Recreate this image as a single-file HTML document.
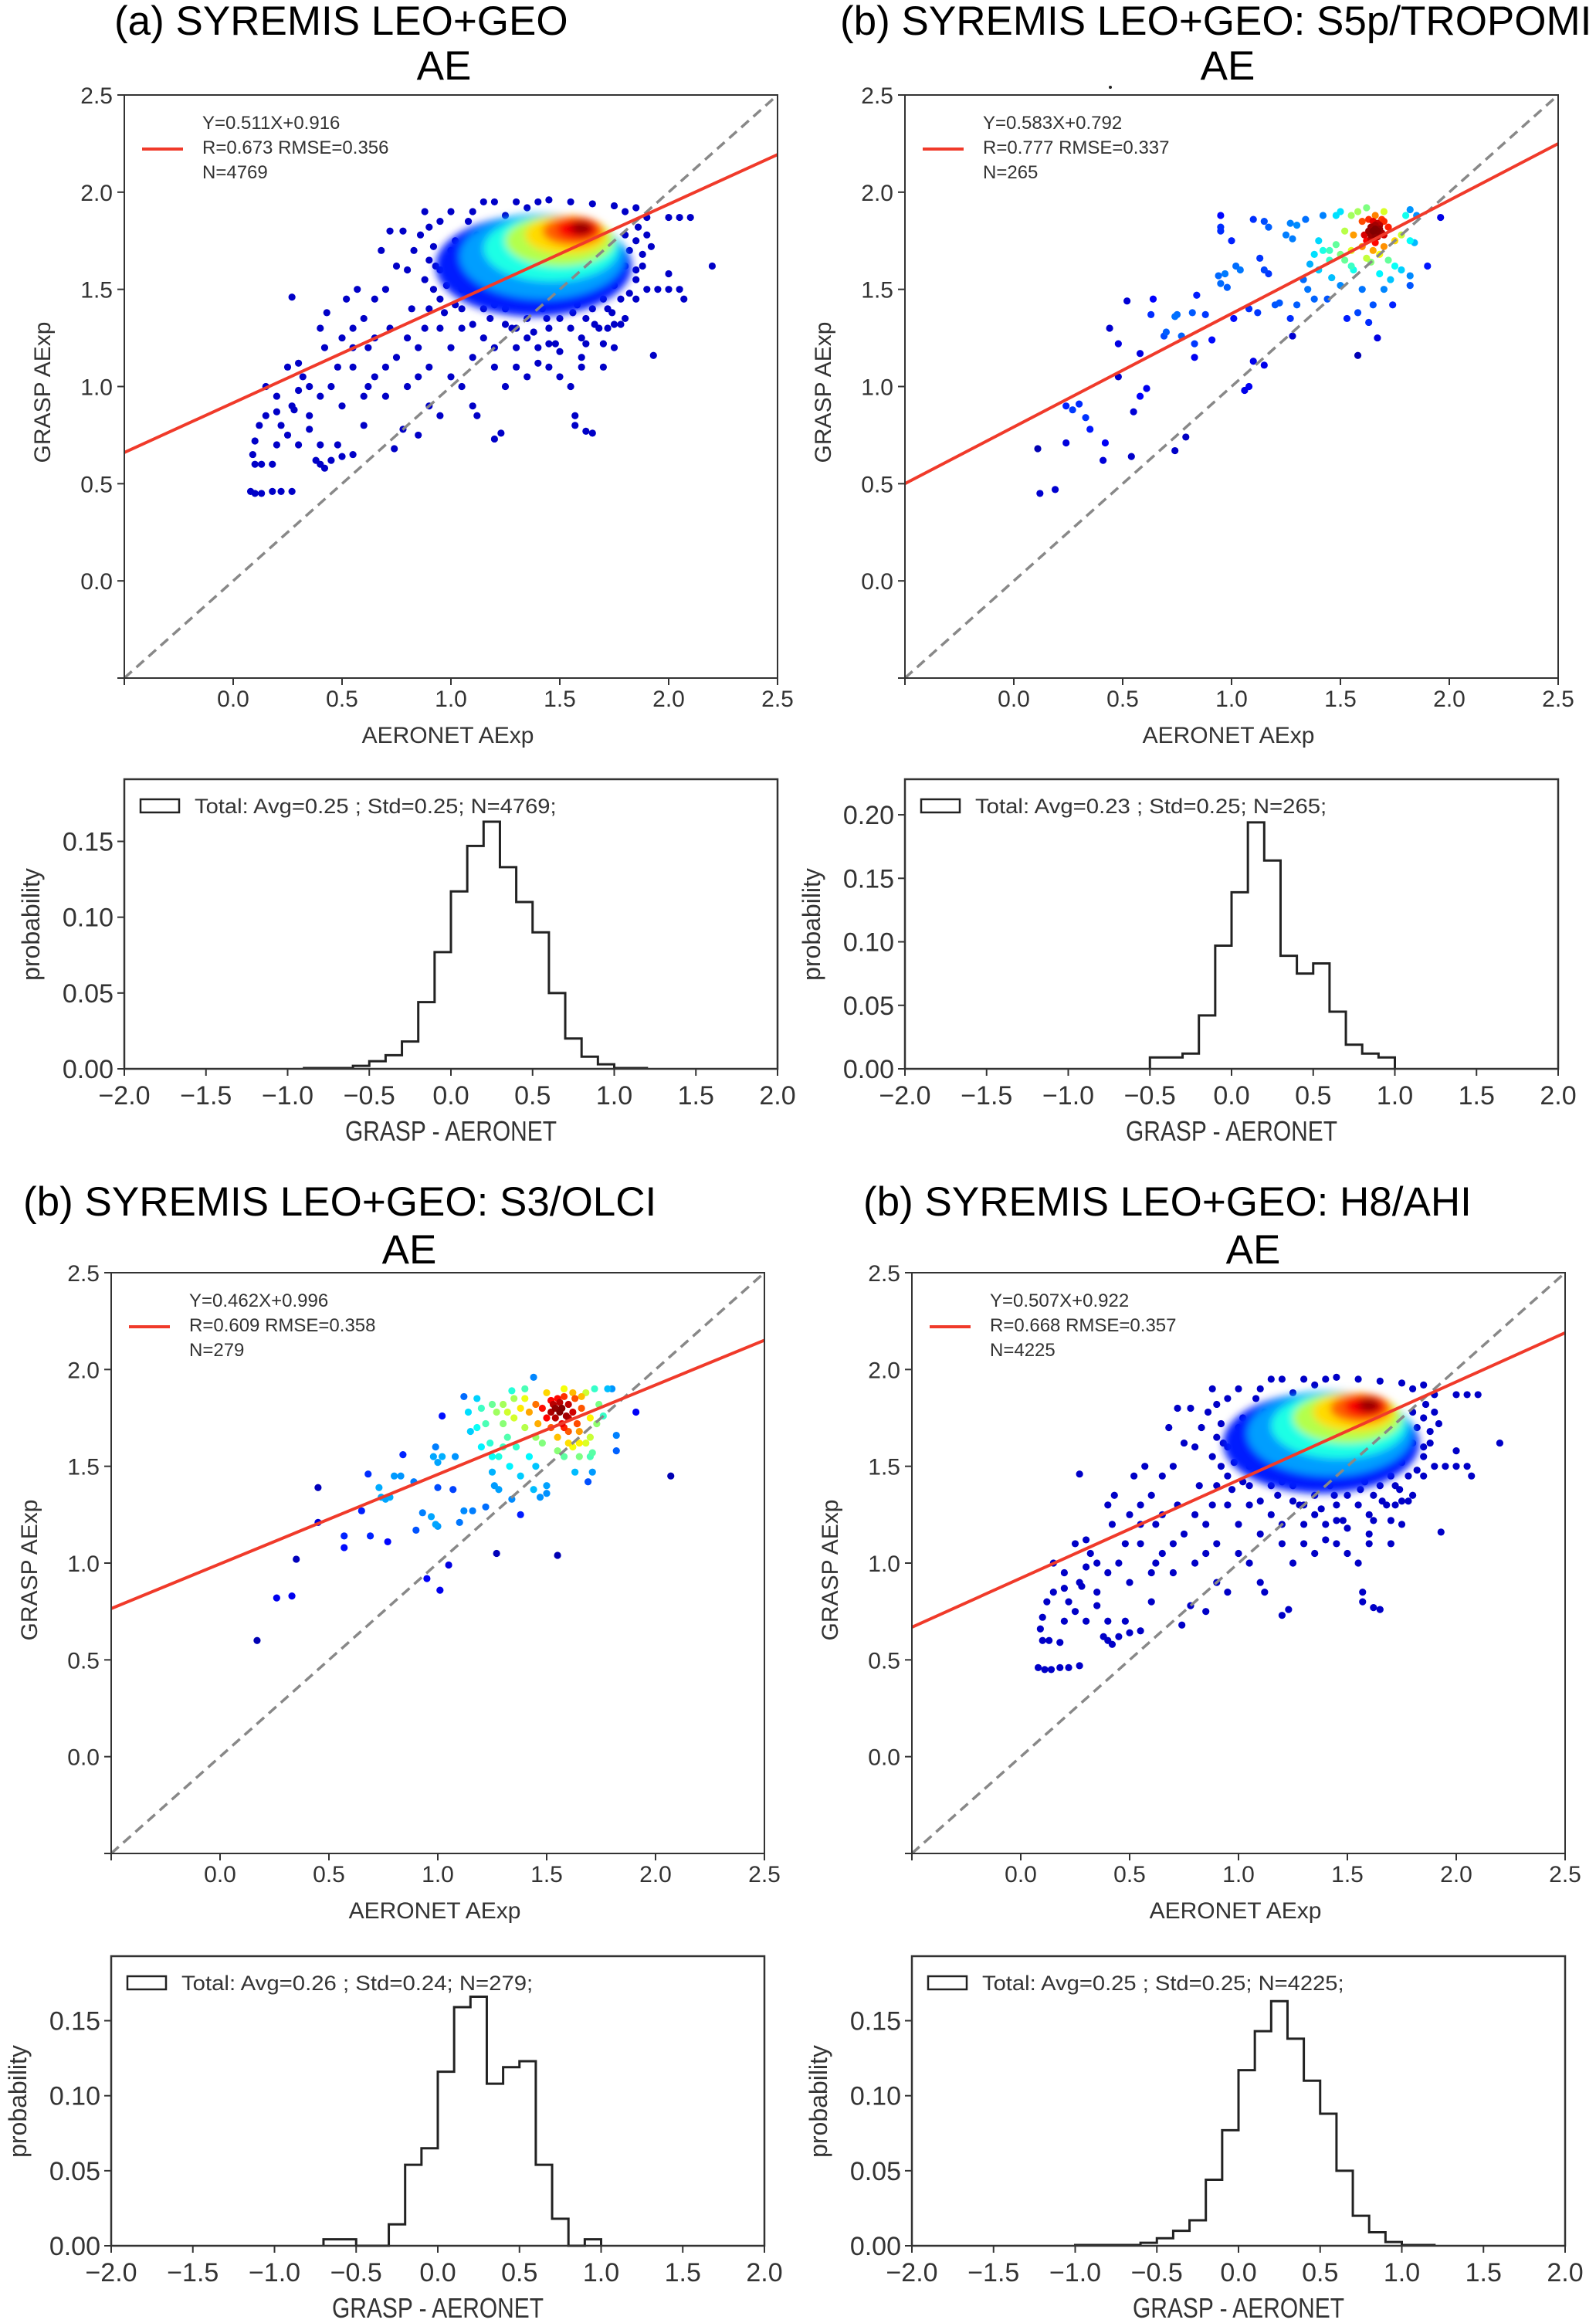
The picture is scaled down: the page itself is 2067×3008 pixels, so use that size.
<!DOCTYPE html>
<html><head><meta charset="utf-8"><style>
html,body{margin:0;padding:0;background:#fff;}
svg text{font-family:"Liberation Sans",sans-serif;}
</style></head>
<body>
<svg id="fig" xmlns="http://www.w3.org/2000/svg" width="2067" height="3003" viewBox="0 0 2067 3003">
<defs>
<filter id="blurCore" x="-50%" y="-50%" width="200%" height="200%"><feGaussianBlur stdDeviation="5"/></filter>
</defs>
<rect width="2067" height="3003" fill="#fff"/>
<text x="148" y="45" font-size="53">(a)  SYREMIS LEO+GEO</text>
<text x="575" y="103" font-size="53" text-anchor="middle">AE</text>
<text x="1088" y="45" font-size="53">(b)  SYREMIS LEO+GEO: S5p/TROPOMI</text>
<text x="1590" y="103" font-size="53" text-anchor="middle">AE</text>
<circle cx="1438" cy="113" r="2" fill="#222"/>
<text x="30" y="1574" font-size="53">(b)  SYREMIS LEO+GEO: S3/OLCI</text>
<text x="530" y="1636" font-size="53" text-anchor="middle">AE</text>
<text x="1118" y="1574" font-size="53">(b)  SYREMIS LEO+GEO: H8/AHI</text>
<text x="1623" y="1636" font-size="53" text-anchor="middle">AE</text>
</svg>
<script>
// ---------- data ----------
const xTicksScatter = [0.0, 0.5, 1.0, 1.5, 2.0, 2.5];
const yTicksScatter = [0.0, 0.5, 1.0, 1.5, 2.0, 2.5];
const xTicksHist = [-2.0, -1.5, -1.0, -0.5, 0.0, 0.5, 1.0, 1.5, 2.0];
const yTicksHistA = [0.00, 0.05, 0.10, 0.15];
const yTicksHistB = [0.00, 0.05, 0.10, 0.15, 0.20];

const fitSlope = [0.511, 0.583, 0.462, 0.507];
const fitIntercept = [0.916, 0.792, 0.996, 0.922];
const fitLabels = [
 ["Y=0.511X+0.916","R=0.673  RMSE=0.356","N=4769"],
 ["Y=0.583X+0.792","R=0.777  RMSE=0.337","N=265"],
 ["Y=0.462X+0.996","R=0.609  RMSE=0.358","N=279"],
 ["Y=0.507X+0.922","R=0.668  RMSE=0.357","N=4225"]];
const histLabels = [
 "Total: Avg=0.25 ; Std=0.25; N=4769;",
 "Total: Avg=0.23 ; Std=0.25; N=265;",
 "Total: Avg=0.26 ; Std=0.24; N=279;",
 "Total: Avg=0.25 ; Std=0.25; N=4225;"];

const histStart = [-0.9, -0.5, -0.7, -1.0];
const histA = [0.0005,0.0005,0.0005,0.002,0.005,0.009,0.018,0.044,0.077,0.117,0.147,0.163,0.133,0.110,0.090,0.050,0.020,0.008,0.003,0.0005,0.0005];
const histB = [0.009,0.009,0.012,0.042,0.097,0.139,0.194,0.164,0.089,0.075,0.083,0.045,0.019,0.012,0.009];
const histC = [0.0043,0.0043,0,0,0.0143,0.054,0.065,0.116,0.159,0.166,0.108,0.119,0.123,0.054,0.018,0,0.0043];
const histD = [0.0005,0.0005,0.0005,0.0005,0.002,0.005,0.010,0.017,0.044,0.077,0.117,0.143,0.163,0.138,0.110,0.088,0.050,0.020,0.009,0.0025,0.0005,0.0005];

const outliersA = [[0.08,0.46],[0.1,0.45],[0.13,0.45],[0.18,0.46],[0.22,0.46],[0.27,0.46],[0.1,0.6],[0.13,0.6],[0.18,0.6],[0.09,0.65],[0.1,0.72],[0.12,0.8],[0.15,0.85],[0.2,0.87],[0.22,0.8],[0.25,0.75],[0.2,0.95],[0.27,0.9],[0.3,0.98],[0.32,1.05],[0.3,1.12],[0.28,0.88],[0.35,0.78],[0.38,0.62],[0.4,0.6],[0.42,0.58],[0.45,0.62],[0.5,0.64],[0.55,0.65],[0.4,0.7],[0.48,0.7],[0.35,0.85],[0.4,0.95],[0.45,1.0],[0.42,1.2],[0.4,1.3],[0.43,1.38],[0.5,1.25],[0.48,1.1],[0.55,1.1],[0.55,1.3],[0.52,1.45],[0.57,1.5],[0.6,1.35],[0.62,1.2],[0.65,1.05],[0.6,0.95],[0.7,0.95],[0.65,1.45],[0.7,1.5],[0.72,1.3],[0.75,1.15],[0.8,1.0],[0.78,0.78],[0.74,0.68],[0.85,0.75],[0.9,0.9],[0.95,0.85],[0.85,1.2],[0.9,1.1],[0.82,1.4],[0.88,1.55],[0.75,1.62],[0.72,1.8],[0.78,1.8],[0.68,1.7],[0.88,1.9],[0.95,1.85],[1.0,1.9],[1.05,1.0],[1.1,0.9],[1.12,0.85],[1.0,1.2],[1.1,1.15],[1.2,1.1],[1.25,1.0],[1.3,1.2],[1.35,1.05],[1.2,0.73],[1.23,0.76],[1.4,1.2],[1.45,1.1],[1.5,1.05],[1.55,1.0],[1.57,0.85],[1.57,0.8],[1.62,0.77],[1.65,0.76],[1.6,1.1],[1.7,1.1],[1.72,1.3],[1.8,1.35],[1.85,1.45],[1.9,1.5],[1.95,1.5],[2.0,1.5],[2.05,1.5],[2.07,1.45],[1.93,1.16],[2.2,1.62],[2.0,1.58],[1.9,1.87],[2.0,1.87],[2.05,1.87],[2.1,1.87],[1.85,1.75],[0.27,1.46],[0.15,1.0],[0.25,1.1],[0.5,0.9],[0.6,0.8],[0.55,1.2],[0.65,1.25],[0.8,1.25],[0.95,1.3],[1.05,1.3],[1.15,1.25],[1.3,1.3],[1.45,1.3],[1.6,1.25],[1.75,1.2],[0.9,1.65],[1.0,1.7],[1.2,1.95],[1.3,1.95],[1.4,1.95],[1.45,1.96],[1.1,1.9],[1.8,1.9],[1.75,1.6],[1.85,1.6],[0.95,1.45],[1.05,1.5],[1.15,1.4],[1.25,1.4],[1.35,1.35],[1.5,1.35],[1.65,1.4],[1.7,1.45],[0.85,1.05],[1.0,1.05],[0.7,1.1],[0.62,1.0],[0.35,1.0],[0.3,0.7],[0.2,0.7]];
const outliersD = [[0.08,0.46],[0.11,0.45],[0.14,0.45],[0.18,0.46],[0.22,0.46],[0.27,0.47],[0.1,0.6],[0.13,0.6],[0.18,0.59],[0.09,0.66],[0.1,0.72],[0.12,0.8],[0.15,0.85],[0.2,0.87],[0.22,0.8],[0.25,0.75],[0.2,0.95],[0.27,0.9],[0.3,0.98],[0.32,1.05],[0.3,1.12],[0.28,0.88],[0.35,0.78],[0.38,0.62],[0.4,0.6],[0.42,0.58],[0.45,0.62],[0.5,0.64],[0.55,0.65],[0.4,0.7],[0.48,0.7],[0.35,0.85],[0.4,0.95],[0.45,1.0],[0.42,1.2],[0.4,1.3],[0.43,1.35],[0.5,1.25],[0.48,1.1],[0.55,1.1],[0.55,1.3],[0.52,1.45],[0.57,1.5],[0.6,1.35],[0.62,1.2],[0.65,1.05],[0.6,0.95],[0.7,0.95],[0.65,1.45],[0.7,1.5],[0.72,1.3],[0.75,1.15],[0.8,1.0],[0.78,0.78],[0.74,0.68],[0.85,0.75],[0.9,0.9],[0.95,0.85],[0.85,1.2],[0.9,1.1],[0.82,1.4],[0.88,1.55],[0.75,1.62],[0.72,1.8],[0.78,1.8],[0.68,1.7],[0.88,1.9],[0.95,1.85],[1.0,1.9],[1.05,1.0],[1.1,0.9],[1.12,0.85],[1.0,1.2],[1.1,1.15],[1.2,1.1],[1.25,1.0],[1.3,1.2],[1.35,1.05],[1.2,0.73],[1.23,0.76],[1.4,1.2],[1.45,1.1],[1.5,1.05],[1.55,1.0],[1.57,0.85],[1.57,0.8],[1.62,0.77],[1.65,0.76],[1.6,1.1],[1.7,1.1],[1.72,1.3],[1.8,1.35],[1.85,1.45],[1.9,1.5],[1.95,1.5],[2.0,1.5],[2.05,1.5],[2.07,1.45],[1.93,1.16],[2.2,1.62],[2.0,1.58],[1.9,1.87],[2.0,1.87],[2.05,1.87],[2.1,1.87],[1.85,1.75],[0.27,1.46],[0.15,1.0],[0.25,1.1],[0.5,0.9],[0.6,0.8],[0.55,1.2],[0.65,1.25],[0.8,1.25],[0.95,1.3],[1.05,1.3],[1.15,1.25],[1.3,1.3],[1.45,1.3],[1.6,1.25],[1.75,1.2],[0.9,1.65],[1.0,1.7],[1.2,1.95],[1.3,1.95],[1.4,1.95],[1.45,1.96],[1.1,1.9],[1.8,1.9],[1.75,1.6],[1.85,1.6],[0.95,1.45],[1.05,1.5],[1.15,1.4],[1.25,1.4],[1.35,1.35],[1.5,1.35],[1.65,1.4],[1.7,1.45],[0.85,1.05],[1.0,1.05],[0.7,1.1],[0.62,1.0],[0.35,1.0],[0.3,0.7],[0.2,0.7]];
const cloudEdgePts = [[0.86,1.78],[0.9,1.82],[0.92,1.72],[0.95,1.6],[0.98,1.52],[1.02,1.42],[1.05,1.62],[1.08,1.85],[1.12,1.78],[1.15,1.55],[1.18,1.35],[1.22,1.5],[1.25,1.88],[1.28,1.3],[1.32,1.45],[1.35,1.92],[1.38,1.28],[1.42,1.4],[1.48,1.22],[1.52,1.45],[1.55,1.3],[1.58,1.42],[1.62,1.35],[1.65,1.48],[1.68,1.3],[1.72,1.4],[1.75,1.52],[1.78,1.45],[1.8,1.62],[1.82,1.7],[1.86,1.82],[1.88,1.68],[1.9,1.78],[1.78,1.32],[1.7,1.22],[1.6,1.15],[1.5,1.18],[1.4,1.12],[1.3,1.1],[1.2,1.2],[1.1,1.32],[1.05,1.4],[0.97,1.38],[0.92,1.5],[1.0,1.58],[1.1,1.48],[1.2,1.42],[1.45,1.22],[1.62,1.22],[1.75,1.32],[1.85,1.55],[1.92,1.72],[0.8,1.6],[0.83,1.7],[0.9,1.4],[1.15,1.95],[1.55,1.95],[1.65,1.94],[1.75,1.93],[1.85,1.92],[0.88,1.3],[0.93,1.62],[1.02,1.75],[1.08,1.6],[1.12,1.62],[1.18,1.52],[1.25,1.32],[1.35,1.25],[1.44,1.35],[1.56,1.38],[1.66,1.32],[1.74,1.38],[1.82,1.48],[1.88,1.62],[1.8,1.78]];

const pointsB = [[0.11,0.68],[0.12,0.45],[0.19,0.47],[0.24,0.71],[0.24,0.9],[0.27,0.88],[0.3,0.91],[0.33,0.84],[0.35,0.78],[0.41,0.62],[0.42,0.71],[0.44,1.3],[0.48,1.22],[0.48,1.05],[0.52,1.44],[0.54,0.64],[0.55,0.87],[0.58,0.95],[0.58,1.17],[0.61,0.99],[0.63,1.37],[0.64,1.45],[0.69,1.26],[0.7,1.28],[0.74,1.36],[0.75,1.37],[0.74,0.67],[0.77,1.26],[0.79,0.74],[0.82,1.38],[0.83,1.15],[0.83,1.22],[0.84,1.47],[0.88,1.37],[0.91,1.24],[0.95,1.88],[0.95,1.8],[0.95,1.82],[0.94,1.57],[0.95,1.53],[0.97,1.58],[0.98,1.51],[1.0,1.75],[1.01,1.35],[1.02,1.62],[1.04,1.6],[1.06,0.98],[1.08,1.0],[1.08,1.4],[1.1,1.13],[1.12,1.38],[1.15,1.11],[1.13,1.66],[1.15,1.6],[1.17,1.58],[1.1,1.86],[1.15,1.85],[1.17,1.82],[1.2,1.42],[1.22,1.43],[1.25,1.78],[1.27,1.84],[1.28,1.76],[1.3,1.83],[1.27,1.35],[1.28,1.26],[1.3,1.42],[1.33,1.55],[1.35,1.5],[1.34,1.86],[1.36,1.63],[1.38,1.45],[1.4,1.6],[1.42,1.88],[1.44,1.45],[1.45,1.7],[1.48,1.88],[1.5,1.9],[1.46,1.56],[1.5,1.52],[1.52,1.65],[1.53,1.35],[1.55,1.7],[1.56,1.6],[1.58,1.38],[1.6,1.5],[1.58,1.16],[1.6,1.85],[1.62,1.75],[1.63,1.8],[1.64,1.82],[1.65,1.85],[1.66,1.78],[1.66,1.88],[1.67,1.8],[1.68,1.83],[1.69,1.86],[1.7,1.9],[1.7,1.78],[1.72,1.82],[1.65,1.7],[1.62,1.66],[1.55,1.62],[1.5,1.68],[1.48,1.73],[1.45,1.65],[1.42,1.7],[1.4,1.75],[1.38,1.68],[1.55,1.88],[1.58,1.9],[1.62,1.92],[1.52,1.8],[1.56,1.78],[1.6,1.72],[1.7,1.72],[1.72,1.65],[1.75,1.62],[1.73,1.55],[1.75,1.75],[1.78,1.78],[1.8,1.88],[1.82,1.91],[1.85,1.88],[1.84,1.74],[1.82,1.75],[1.78,1.6],[1.82,1.52],[1.82,1.57],[1.9,1.62],[1.96,1.87],[1.74,1.42],[1.65,1.42],[1.67,1.25],[1.63,1.33],[1.68,1.58],[1.7,1.5],[1.64,1.64],[1.68,1.68],[1.66,1.74],[1.7,1.85],[1.63,1.86],[1.61,1.78],[1.64,1.78],[1.68,1.81],[1.66,1.83],[1.67,1.77],[1.65,1.8],[1.67,1.84],[1.69,1.79],[1.64,1.76],[1.66,1.81]];

const pointsC = [[0.17,0.6],[0.26,0.82],[0.33,0.83],[0.35,1.02],[0.45,1.21],[0.45,1.39],[0.57,1.08],[0.57,1.14],[0.65,1.27],[0.68,1.46],[0.69,1.14],[0.73,1.39],[0.74,1.34],[0.76,1.33],[0.78,1.34],[0.77,1.11],[0.8,1.45],[0.83,1.45],[0.84,1.56],[0.89,1.42],[0.9,1.17],[0.93,1.26],[0.95,0.92],[0.97,1.24],[0.98,1.55],[0.99,1.6],[0.99,1.2],[1.0,1.19],[1.0,1.39],[1.0,1.52],[1.01,0.86],[1.02,1.55],[1.02,1.76],[1.05,0.99],[1.07,1.38],[1.08,1.55],[1.1,1.21],[1.12,1.27],[1.12,1.86],[1.14,1.78],[1.16,1.27],[1.18,1.85],[1.15,1.68],[1.18,1.7],[1.2,1.8],[1.22,1.29],[1.22,1.72],[1.24,1.62],[1.25,1.47],[1.26,1.4],[1.27,1.05],[1.28,1.38],[1.28,1.55],[1.3,1.82],[1.32,1.78],[1.32,1.65],[1.34,1.33],[1.34,1.89],[1.35,1.75],[1.36,1.6],[1.38,1.45],[1.38,1.25],[1.38,1.8],[1.4,1.7],[1.4,1.85],[1.42,1.78],[1.42,1.55],[1.44,1.96],[1.44,1.38],[1.45,1.82],[1.46,1.72],[1.47,1.34],[1.48,1.62],[1.5,1.88],[1.5,1.4],[1.5,1.36],[1.52,1.78],[1.52,1.7],[1.53,1.82],[1.54,1.75],[1.55,1.04],[1.55,1.85],[1.56,1.78],[1.57,1.72],[1.57,1.8],[1.58,1.86],[1.59,1.76],[1.6,1.68],[1.6,1.82],[1.62,1.6],[1.62,1.78],[1.63,1.85],[1.63,1.47],[1.64,1.72],[1.65,1.55],[1.66,1.8],[1.68,1.88],[1.68,1.62],[1.69,1.42],[1.7,1.75],[1.71,1.57],[1.71,1.47],[1.72,1.9],[1.73,1.72],[1.78,1.9],[1.8,1.9],[1.82,1.58],[1.82,1.66],[1.91,1.78],[2.07,1.45],[1.48,1.8],[1.55,1.65],[1.45,1.65],[1.35,1.85],[1.3,1.72],[1.58,1.7],[1.6,1.75],[1.56,1.83],[1.54,1.8],[1.52,1.84],[1.5,1.75],[1.6,1.62],[1.65,1.68],[1.7,1.65],[1.74,1.82],[1.76,1.76],[1.66,1.86],[1.62,1.88],[1.58,1.9],[1.4,1.9],[1.25,1.82],[1.27,1.78],[1.3,1.6],[1.33,1.5],[1.25,1.55],[1.2,1.6],[1.45,1.5],[1.55,1.58],[1.65,1.62],[1.7,1.55],[1.58,1.55]];

// density core (panels a and d)
const coreCx = [1.38, 1.42, 1.46, 1.50, 1.53, 1.56, 1.58, 1.60];
const coreCy = [1.62, 1.67, 1.71, 1.75, 1.78, 1.80, 1.81, 1.815];
const coreRx = [0.45, 0.38, 0.31, 0.25, 0.19, 0.14, 0.095, 0.05];
const coreRy = [0.26, 0.22, 0.17, 0.13, 0.10, 0.075, 0.055, 0.035];
const coreLevel = [0.15, 0.28, 0.40, 0.55, 0.66, 0.78, 0.88, 0.98];

// ---------- layout ----------
const NS = "http://www.w3.org/2000/svg";
const svg = document.getElementById("fig");
function mk(tag, attrs, parent){
  const e = document.createElementNS(NS, tag);
  for (const k in attrs) e.setAttribute(k, attrs[k]);
  (parent || svg).appendChild(e);
  return e;
}
function jet(t){
  t = Math.max(0, Math.min(1, t));
  const c = v => Math.round(255 * Math.max(0, Math.min(1, v)));
  return `rgb(${c(1.5 - Math.abs(4*t - 3))},${c(1.5 - Math.abs(4*t - 2))},${c(1.5 - Math.abs(4*t - 1))})`;
}
const INK = "#333";
const DV = '"DejaVu Sans","Liberation Sans",sans-serif';

const scatterPanels = [
  {id:"a", L:161, T:123, H:755, outliers:outliersA.concat(cloudEdgePts), pts:null, core:true},
  {id:"b", L:1172, T:123, H:755, outliers:null, pts:pointsB, core:false},
  {id:"c", L:144, T:1648, H:752, outliers:null, pts:pointsC, core:false},
  {id:"d", L:1181, T:1648, H:752, outliers:outliersD.concat(cloudEdgePts), pts:null, core:true}];
const SW = 846;

function drawScatter(p, i){
  const SH = p.H;
  const g = mk("g", {});
  
  
  const xs = v => p.L + (v + 0.5) / 3 * SW;
  const ys = v => p.T + (2.5 - v) / 3 * SH;
  const clipId = "clip" + p.id;
  const cp = mk("clipPath", {id: clipId}, g);
  mk("rect", {x:p.L, y:p.T, width:SW, height:SH}, cp);
  const plot = mk("g", {"clip-path": `url(#${clipId})`}, g);

  if (p.outliers){
    p.outliers.forEach(pt => {
      const c = mk("circle", {cx: xs(pt[0]), cy: ys(pt[1]), r: 4.6, fill: jet(0.07)}, plot);
      
      
    });
  }
  if (p.core){
    const ccId = "coreclip" + p.id;
    const cc = mk("clipPath", {id: ccId}, g);
    mk("rect", {x:p.L, y:ys(1.965), width:SW, height:SH}, cc);
    const cg = mk("g", {"clip-path": `url(#${ccId})`}, plot);
    const bg = mk("g", {filter: "url(#blurCore)"}, cg);
    coreCx.forEach((cx, k) => {
      const e = mk("ellipse", {cx: xs(cx), cy: ys(coreCy[k]), rx: coreRx[k] / 3 * SW, ry: coreRy[k] / 3 * SH, fill: jet(coreLevel[k])}, bg);
      
      
    });
  }
  if (p.pts){
    const dens = p.pts.map(a => p.pts.reduce((s, b) => {
      const dx = (a[0] - b[0]) / 0.12, dy = (a[1] - b[1]) / 0.1;
      return s + Math.exp(-(dx*dx + dy*dy));
    }, 0));
    const mx = Math.max(...dens), mn = Math.min(...dens);
    const order = dens.map((d, k) => k).sort((u, v) => dens[u] - dens[v]);
    order.forEach(k => {
      const t = 0.05 + 0.95 * Math.pow((dens[k] - mn) / (mx - mn), 0.85);
      const c = mk("circle", {cx: xs(p.pts[k][0]), cy: ys(p.pts[k][1]), r: 4.6, fill: jet(t)}, plot);
      
      
    });
  }
  const d1 = mk("line", {x1: xs(-0.5), y1: ys(-0.5), x2: xs(2.5), y2: ys(2.5), stroke: "#888", "stroke-width": 3.5, "stroke-dasharray": "13 8"}, plot);
  
  
  const m = fitSlope[i], b = fitIntercept[i];
  const fl = mk("line", {x1: xs(-0.5), y1: ys(m * -0.5 + b), x2: xs(2.5), y2: ys(m * 2.5 + b), stroke: "#f03a2a", "stroke-width": 4}, plot);
  
  

  const fr = mk("rect", {x:p.L, y:p.T, width:SW, height:SH, fill:"none", stroke:INK, "stroke-width":2}, g);
  
  
  [-0.5].concat(xTicksScatter).forEach(v => {
    mk("line", {x1: xs(v), y1: p.T + SH, x2: xs(v), y2: p.T + SH + 9, stroke: INK, "stroke-width": 2}, g);
  });
  xTicksScatter.forEach(v => {
    const t = mk("text", {x: xs(v), y: p.T + SH + 37, "font-size": 30, fill: INK, "text-anchor": "middle", "font-family": DV}, g);
    t.textContent = v.toFixed(1);
    
    
  });
  [-0.5].concat(yTicksScatter).forEach(v => {
    mk("line", {x1: p.L - 9, y1: ys(v), x2: p.L, y2: ys(v), stroke: INK, "stroke-width": 2}, g);
  });
  yTicksScatter.forEach(v => {
    const t = mk("text", {x: p.L - 15, y: ys(v) + 11, "font-size": 30, fill: INK, "text-anchor": "end", "font-family": DV}, g);
    t.textContent = v.toFixed(1);
    
    
  });
  const xl = mk("text", {x: p.L + SW / 2 - 4, y: p.T + SH + 84, "font-size": 30, fill: INK, "text-anchor": "middle", "font-family": DV}, g);
  xl.textContent = "AERONET AExp";
  
  
  const yl = mk("text", {x: 0, y: 0, "font-size": 30, fill: INK, "text-anchor": "middle", "font-family": DV, transform: `translate(${p.L - 96},${p.T + 385}) rotate(-90)`}, g);
  yl.textContent = "GRASP AExp";
  
  
  const lg = mk("g", {}, g);
  
  
  mk("line", {x1: p.L + 23, y1: p.T + 70, x2: p.L + 76, y2: p.T + 70, stroke: "#f03a2a", "stroke-width": 4}, lg);
  fitLabels[i].forEach((s, k) => {
    const t = mk("text", {x: p.L + 101, y: p.T + 44 + k * 32, "font-size": 24, fill: INK, "font-family": DV}, lg);
    t.textContent = s;
  });
}
scatterPanels.forEach(drawScatter);

// ---------- histograms ----------
const histPanels = [
  {id:"a", L:161, T:1009, B:1384, ymax:0.191, vals:histA, start:histStart[0], yt:yTicksHistA},
  {id:"b", L:1172, T:1009, B:1384, ymax:0.228, vals:histB, start:histStart[1], yt:yTicksHistB},
  {id:"c", L:144, T:2533, B:2908, ymax:0.193, vals:histC, start:histStart[2], yt:yTicksHistA},
  {id:"d", L:1181, T:2533, B:2908, ymax:0.193, vals:histD, start:histStart[3], yt:yTicksHistA}];
const HW = 846;
function drawHist(p, i){
  const g = mk("g", {});
  
  
  const xs = v => p.L + (v + 2) / 4 * HW;
  const ys = v => p.B - v / p.ymax * (p.B - p.T);
  let d = `M${xs(p.start)},${ys(0)}`;
  p.vals.forEach((v, k) => {
    const x0 = p.start + k * 0.1;
    d += ` L${xs(x0)},${ys(v)} L${xs(x0 + 0.1)},${ys(v)}`;
  });
  d += ` L${xs(p.start + p.vals.length * 0.1)},${ys(0)}`;
  const path = mk("path", {d: d, fill: "none", stroke: "#222", "stroke-width": 3}, g);
  
  
  const fr = mk("rect", {x: p.L, y: p.T, width: HW, height: p.B - p.T, fill: "none", stroke: INK, "stroke-width": 2.5}, g);
  
  
  xTicksHist.forEach(v => {
    mk("line", {x1: xs(v), y1: p.B, x2: xs(v), y2: p.B + 9, stroke: INK, "stroke-width": 2}, g);
    const t = mk("text", {x: xs(v), y: p.B + 46, "font-size": 34, fill: INK, "text-anchor": "middle"}, g);
    t.textContent = (v < 0 ? "\u2212" : "") + Math.abs(v).toFixed(1);
    
    
  });
  p.yt.forEach(v => {
    mk("line", {x1: p.L - 9, y1: ys(v), x2: p.L, y2: ys(v), stroke: INK, "stroke-width": 2}, g);
    const t = mk("text", {x: p.L - 14, y: ys(v) + 12, "font-size": 34, fill: INK, "text-anchor": "end"}, g);
    t.textContent = v.toFixed(2);
    
    
  });
  const xl = mk("text", {x: p.L + HW / 2, y: p.B + 93, "font-size": 36, fill: INK, "text-anchor": "middle", textLength: 274, lengthAdjust: "spacingAndGlyphs"}, g);
  xl.textContent = "GRASP - AERONET";
  
  
  const yl = mk("text", {x: 0, y: 0, "font-size": 32, fill: INK, "text-anchor": "middle", "font-family": DV, transform: `translate(${p.L - 110},${p.T + 188}) rotate(-90)`}, g);
  yl.textContent = "probability";
  
  
  const lg = mk("g", {}, g);
  
  
  mk("rect", {x: p.L + 21, y: p.T + 26, width: 50, height: 17, fill: "none", stroke: "#222", "stroke-width": 2.5}, lg);
  const lt = mk("text", {x: p.L + 91, y: p.T + 44, "font-size": 27, fill: INK, textLength: 482 * (histLabels[i].length / 36), lengthAdjust: "spacingAndGlyphs"}, lg);
  lt.textContent = histLabels[i];
}
histPanels.forEach(drawHist);
</script>
</body></html>
